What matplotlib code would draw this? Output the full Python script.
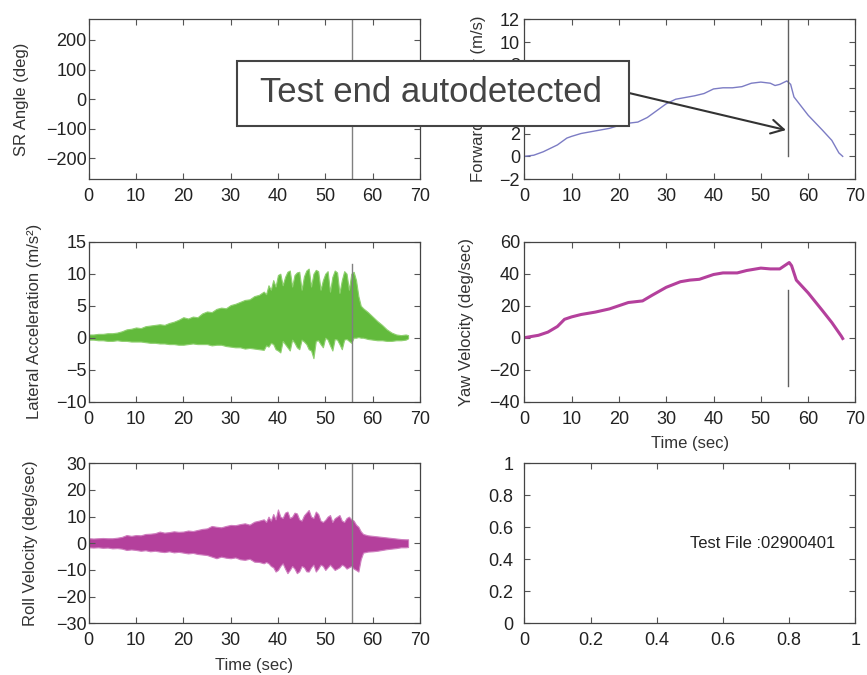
import numpy as np
import matplotlib
matplotlib.use('Agg')
import matplotlib.pyplot as plt
from matplotlib.patches import Rectangle

plt.rcParams['font.family'] = ['Liberation Sans', 'DejaVu Sans']

TEST_END = 55.7

# forward velocity (m/s)
fwd_t = [0, 2, 4, 6, 7, 8, 9, 10, 12, 14, 16, 18, 20, 22, 24, 26, 28, 30, 32, 34, 36, 38,
         40, 42, 44, 46, 48, 50, 52, 53, 54, 55.5, 56.3, 57, 60, 63, 65, 66.5, 67.3]
fwd_v = [0.0, 0.1, 0.4, 0.8, 1.0, 1.3, 1.6, 1.75, 2.0, 2.15, 2.3, 2.45, 2.7, 2.9, 3.0, 3.4, 4.0,
         4.6, 5.0, 5.15, 5.3, 5.5, 5.9, 6.0, 6.0, 6.1, 6.4, 6.5, 6.4, 6.2, 6.3, 6.6, 6.3, 5.2,
         3.6, 2.3, 1.4, 0.3, 0.0]

# yaw velocity (deg/sec)
yaw_t = [0, 1, 3, 5, 7, 8.5, 10, 12, 15, 18, 20, 22, 25, 27, 30, 33, 35, 37, 40, 42, 45, 47,
         50, 52, 54, 55, 56, 56.5, 57.5, 60, 63, 65, 67, 67.3]
yaw_v = [0, 0.5, 1.5, 3.5, 7, 11.5, 13, 14.5, 16, 18, 20, 22, 23, 26.5, 31.5, 35, 36, 36.5,
         39.5, 40.5, 40.5, 42, 43.5, 43, 43, 45, 47, 45, 36, 28, 17, 9.5, 1, -0.5]

# sample times for the envelope of the oscillating signals
osc_t = [0, 1, 2, 3, 4, 5, 6, 7, 8, 9, 10, 11, 12, 13, 14, 15, 16, 17, 18, 19, 20, 21, 22, 23,
         24, 25, 26, 27, 28, 29, 30, 31, 32, 33, 34, 35, 36, 37,
         37.5, 38, 38.5, 39, 39.5, 40, 40.5, 41, 41.5, 42, 42.5, 43, 43.5, 44, 44.5, 45, 45.5,
         46, 46.5, 47, 47.5, 48, 48.5, 49, 49.5, 50, 50.5, 51, 51.5, 52, 52.5, 53, 53.5, 54,
         54.5, 55, 55.5, 56, 56.5, 57, 57.5,
         58, 59, 60, 61, 62, 63, 64, 65, 66, 67, 67.5]

# lateral acceleration envelope (m/s^2)
lat_hi = [0.5, 0.5, 0.6, 0.6, 0.7, 0.7, 0.8, 1.0, 1.3, 1.4, 1.6, 1.5, 1.8, 1.9, 2.0, 2.1, 2.0,
          2.3, 2.5, 2.8, 3.2, 3.0, 3.3, 3.2, 3.8, 4.1, 4.0, 4.5, 4.7, 4.6, 5.1, 5.3, 5.6, 5.9,
          6.0, 6.5, 6.7, 7.2,
          6.8, 8.2, 7.5, 9.0, 8.0, 9.8, 10.0, 8.2, 9.5, 10.3, 10.5, 8.0, 9.8, 10.2, 10.3, 7.5,
          9.6, 10.5, 10.8, 8.0, 10.0, 10.6, 10.4, 7.5, 9.0, 10.0, 10.4, 7.2, 9.5, 10.5, 10.2,
          7.0, 9.0, 10.4, 10.0, 7.5, 10.0, 10.3, 9.0, 6.5, 5.0,
          4.6, 4.0, 3.3, 2.6, 2.0, 1.3, 0.8, 0.5, 0.4, 0.5, 0.4]
lat_lo = [-0.3, -0.3, -0.4, -0.4, -0.5, -0.5, -0.4, -0.5, -0.5, -0.6, -0.6, -0.6, -0.7, -0.8,
          -0.8, -0.9, -0.9, -1.0, -1.0, -1.1, -1.1, -1.0, -0.9, -1.0, -1.0, -1.0, -1.2, -1.1,
          -1.1, -1.3, -1.4, -1.5, -1.5, -1.7, -1.6, -1.7, -1.8, -1.9,
          -1.2, -1.4, -0.8, -1.0, -1.8, -2.0, -2.3, -0.5, -1.0, -1.5, -2.0, -0.3, -0.8, -1.5,
          -1.8, -0.3, -0.6, -1.0, -1.8, -2.0, -3.2, -0.5, -0.4, -1.0, -1.5, 0.0, -0.3, -1.2,
          -2.0, -0.2, -0.3, -1.0, -1.8, -0.3, -0.2, -0.5, -0.8, 0.0, 0.0, 0.1, 0.0,
          0.0, -0.2, -0.3, -0.4, -0.4, -0.5, -0.5, -0.4, -0.4, -0.3, -0.1]

# roll velocity envelope (deg/sec)
roll_hi = [1.9, 1.8, 1.9, 2.0, 1.9, 1.9, 2.1, 2.4, 3.1, 2.8, 3.1, 3.0, 3.5, 3.6, 3.8, 4.4, 4.0,
           4.2, 4.5, 4.3, 4.4, 4.8, 4.6, 5.0, 5.4, 5.6, 6.5, 6.2, 6.0, 6.5, 6.9, 6.8, 7.2, 7.5,
           7.0, 8.1, 8.5, 9.0,
           8.0, 10.0, 8.5, 11.0, 9.0, 12.7, 10.0, 9.5, 11.5, 11.9, 9.5, 10.0, 11.5, 11.2, 9.0,
           8.5, 10.5, 11.5, 12.5, 10.0, 9.5, 11.9, 11.0, 8.5, 8.0, 8.8, 10.0, 10.6, 8.0, 9.4,
           10.0, 10.6, 8.5, 8.0, 9.5, 10.0, 9.0, 8.5, 7.0, 6.2, 4.5,
           3.5, 3.0, 2.8, 2.6, 2.4, 2.2, 2.0, 1.8, 1.6, 1.5, 1.5]
roll_lo = [-1.5, -1.6, -1.5, -1.7, -1.6, -1.9, -1.8, -2.0, -2.5, -2.3, -2.5, -2.8, -2.6, -3.0,
           -2.8, -3.1, -3.3, -3.0, -3.4, -3.2, -3.5, -3.8, -3.6, -4.0, -4.2, -4.4, -5.0, -5.6,
           -5.0, -5.4, -5.6, -5.3, -6.0, -6.2, -5.8, -6.9, -7.0, -7.5,
           -7.0, -7.5, -8.5, -9.0, -10.6, -10.0, -8.5, -7.5, -9.5, -11.2, -10.0, -8.5, -9.5,
           -11.2, -10.5, -8.5, -9.0, -10.5, -10.6, -9.0, -8.0, -10.6, -9.5, -8.0, -8.5, -10.0,
           -9.0, -8.0, -9.0, -10.0, -9.5, -9.0, -8.0, -8.5, -9.5, -9.0, -8.5, -9.5, -10.0,
           -10.6, -6.0,
           -3.5, -3.1, -3.0, -2.8, -2.5, -2.2, -2.0, -1.8, -1.5, -1.5, -1.4]

GREEN = '#62ba3c'
MAGENTA = '#b4409c'
BLUE = '#7c7cc4'
END_LINE = '#808080'
TIME_TICKS = [0, 10, 20, 30, 40, 50, 60, 70]


def style_axes(ax, ylim, yticks, ylabel, label_x, xlim=(0, 70), xticks=TIME_TICKS,
               xlabel=None, ypad=1.5):
    ax.set_xlim(xlim)
    ax.set_ylim(ylim)
    ax.set_xticks(xticks)
    ax.set_yticks(yticks)
    ax.tick_params(direction='in', top=True, right=True, length=4, width=0.8,
                   color='#555555', labelsize=13, labelcolor='#222222')
    ax.tick_params(axis='x', pad=6.5)
    ax.tick_params(axis='y', pad=ypad)
    for s in ax.spines.values():
        s.set_color('#444444')
        s.set_linewidth(0.9)
    if ylabel:
        ax.set_ylabel(ylabel, fontsize=12, color='#333333')
        ax.yaxis.set_label_coords(label_x, 0.5)
    if xlabel:
        ax.set_xlabel(xlabel, fontsize=12, color='#333333')
        ax.xaxis.set_label_coords(0.5, -0.215)


def main():
    fig = plt.figure(figsize=(8.67, 6.75), dpi=100)
    w = 0.382
    h = 0.237
    ax_sr = fig.add_axes([0.1023, 0.7345, w, h])
    ax_fwd = fig.add_axes([0.6047, 0.7345, w, h])
    ax_lat = fig.add_axes([0.1023, 0.4049, w, h])
    ax_yaw = fig.add_axes([0.6047, 0.4049, w, h])
    ax_roll = fig.add_axes([0.1023, 0.0766, w, h])
    ax_blank = fig.add_axes([0.6047, 0.0766, w, h])

    # SR angle: no data, only the end marker
    ax_sr.plot([TEST_END, TEST_END], [-270, 270], color=END_LINE, lw=1)
    style_axes(ax_sr, (-270, 270), [-200, -100, 0, 100, 200], 'SR Angle (deg)', -0.180)

    ax_fwd.plot(fwd_t, fwd_v, color=BLUE, lw=1)
    ax_fwd.plot([TEST_END, TEST_END], [0, 12], color='#606060', lw=1)
    style_axes(ax_fwd, (-2, 12), [-2, 0, 2, 4, 6, 8, 10, 12], 'Forward Velocity (m/s)',
               -0.115, ypad=3)

    ax_lat.fill_between(osc_t, lat_lo, lat_hi, facecolor=GREEN, lw=0.8,
                        edgecolor='#8fd070')
    ax_lat.plot([TEST_END, TEST_END], [-10, 11.5], color=END_LINE, lw=1)
    style_axes(ax_lat, (-10, 15), [-10, -5, 0, 5, 10, 15], 'Lateral Acceleration (m/s²)',
               -0.141)

    ax_yaw.plot(yaw_t, yaw_v, color=MAGENTA, lw=2.2)
    ax_yaw.plot([TEST_END, TEST_END], [-30, 30], color='#606060', lw=1)
    style_axes(ax_yaw, (-40, 60), [-40, -20, 0, 20, 40, 60], 'Yaw Velocity (deg/sec)',
               -0.152, xlabel='Time (sec)', ypad=3)

    ax_roll.fill_between(osc_t, roll_lo, roll_hi, facecolor=MAGENTA, lw=0.8,
                         edgecolor='#cf7fbf')
    ax_roll.plot([TEST_END, TEST_END], [-30, 30], color=END_LINE, lw=1)
    style_axes(ax_roll, (-30, 30), [-30, -20, -10, 0, 10, 20, 30], 'Roll Velocity (deg/sec)',
               -0.153, xlabel='Time (sec)')

    style_axes(ax_blank, (0, 1), [0, 0.2, 0.4, 0.6, 0.8, 1], None, 0, xlim=(0, 1),
               xticks=[0, 0.2, 0.4, 0.6, 0.8, 1], ypad=8)
    ax_blank.set_xticklabels(['0', '0.2', '0.4', '0.6', '0.8', '1'])
    ax_blank.set_yticklabels(['0', '0.2', '0.4', '0.6', '0.8', '1'])
    ax_blank.text(0.5, 0.5, 'Test File :02900401', fontsize=12, color='#222222',
                  ha='left', va='center')

    # callout box with arrow to the detected end
    box = Rectangle((237 / 867, 1 - 126 / 675), 392 / 867, 65 / 675, transform=fig.transFigure,
                    facecolor='white', edgecolor='#444444', lw=1.5, zorder=10)
    fig.add_artist(box)
    fig.text(431 / 867, 1 - 93 / 675, 'Test end autodetected', fontsize=25, color='#444444',
             ha='center', va='center', zorder=11)
    ax_fwd.annotate('', xy=(55.3, 2.3), xycoords='data',
                    xytext=(629 / 867, 1 - 93 / 675), textcoords='figure fraction',
                    arrowprops=dict(arrowstyle='->, head_length=0.9, head_width=0.5',
                                    color='#333333', lw=1.5, shrinkA=0, shrinkB=0),
                    annotation_clip=False)

    fig.savefig('out.png', dpi=100)


if __name__ == '__main__':
    main()
